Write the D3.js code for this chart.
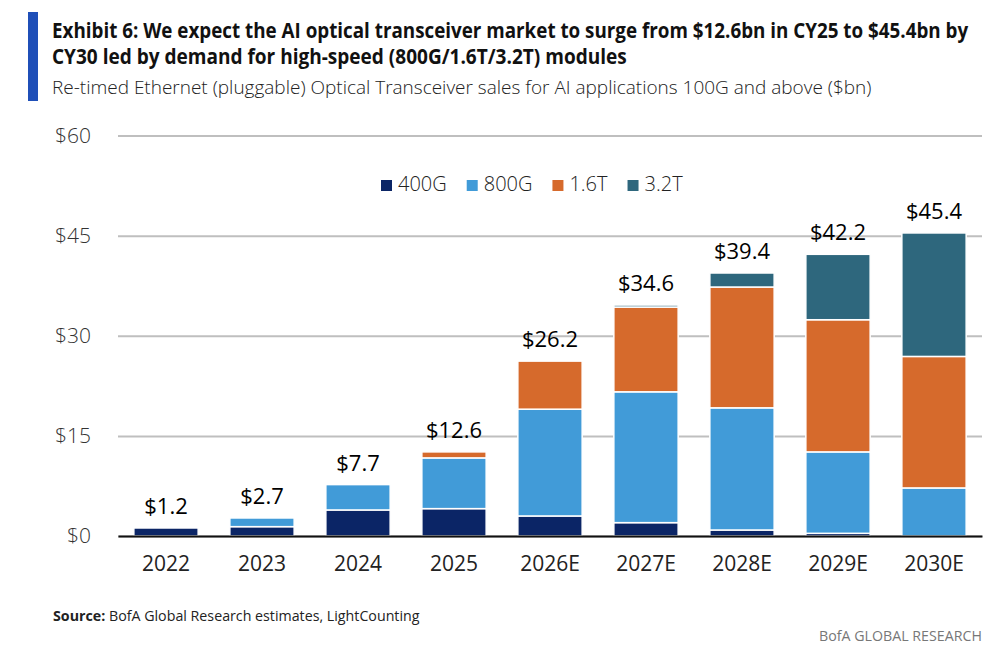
<!DOCTYPE html>
<html>
<head>
<meta charset="utf-8">
<script src="https://cdn.jsdelivr.net/npm/d3@7"></script>
<style>
  html, body { margin: 0; padding: 0; background: #fff; }
  svg { display: block; font-family: "Open Sans", "Noto Sans", sans-serif; }
</style>
</head>
<body>
<div id="chart"></div>
<script>
// chart values ($bn)
var years = ["2022", "2023", "2024", "2025", "2026E", "2027E", "2028E", "2029E", "2030E"];
var seriesNames = ["400G", "800G", "1.6T", "3.2T"];
var sales400G = [1.2, 1.4, 3.9, 4.1, 3.0, 2.0, 0.9, 0.4, 0.0];
var sales800G = [0.0, 1.3, 3.8, 7.6, 16.0, 19.6, 18.3, 12.2, 7.2];
var sales16T  = [0.0, 0.0, 0.0, 0.9, 7.2, 12.7, 18.1, 19.8, 19.7];
var sales32T  = [0.0, 0.0, 0.0, 0.0, 0.0, 0.3, 2.1, 9.8, 18.5];
var totals    = [1.2, 2.7, 7.7, 12.6, 26.2, 34.6, 39.4, 42.2, 45.4];
var yTicks    = [0, 15, 30, 45, 60];

var colors = ["#0b2566", "#419bd8", "#d66a2c", "#2e677d"];

var width = 998, height = 654;
var margin = { left: 118, right: 16, top: 135.5, bottom: 118 };

var svg = d3.select("#chart").append("svg")
    .attr("width", width)
    .attr("height", height);

// header
svg.append("rect")
    .attr("x", 28).attr("y", 12)
    .attr("width", 10).attr("height", 89)
    .attr("fill", "#1f4fb8");

// the original uses a condensed face, so squeeze the text horizontally to the same width
function condensed(x0, y0, len) {
  return function(sel) {
    var w = sel.node().getComputedTextLength();
    var k = Math.min(1, len / w);
    sel.attr("transform", "translate(" + x0 + "," + y0 + ") scale(" + k + ",1)");
  };
}

svg.append("text")
    .attr("font-size", 21).attr("font-weight", 700).attr("fill", "#111")
    .text("Exhibit 6: We expect the AI optical transceiver market to surge from $12.6bn in CY25 to $45.4bn by")
    .call(condensed(52, 38, 917));

svg.append("text")
    .attr("font-size", 21).attr("font-weight", 700).attr("fill", "#111")
    .text("CY30 led by demand for high-speed (800G/1.6T/3.2T) modules")
    .call(condensed(52, 64, 575));

svg.append("text")
    .attr("font-size", 19).attr("font-weight", 300).attr("fill", "#222")
    .text("Re-timed Ethernet (pluggable) Optical Transceiver sales for AI applications 100G and above ($bn)")
    .call(condensed(52, 94, 820));

// scales
var x = d3.scaleBand()
    .domain(years)
    .range([margin.left, width - margin.right])
    .paddingInner(0.33)
    .paddingOuter(0.165);

var y = d3.scaleLinear()
    .domain([0, 60])
    .range([height - margin.bottom, margin.top]);

// gridlines + y labels
var yAxis = d3.axisLeft(y)
    .tickValues(yTicks)
    .tickSize(-(width - margin.right - margin.left))
    .tickPadding(27)
    .tickFormat(function(d){ return "$" + d; });

var gy = svg.append("g")
    .attr("transform", "translate(" + margin.left + ",0)")
    .call(yAxis);
gy.select(".domain").remove();
gy.selectAll(".tick line")
    .attr("stroke", "#bfbfbf")
    .attr("stroke-width", 2);
gy.selectAll(".tick text")
    .attr("font-size", 21)
    .attr("font-weight", 300)
    .attr("fill", "#333")
    .attr("font-family", "'Open Sans', sans-serif");

// stacked bars
var rows = years.map(function(yr, i) {
  return { year: yr, "400G": sales400G[i], "800G": sales800G[i], "1.6T": sales16T[i], "3.2T": sales32T[i] };
});
var stacked = d3.stack().keys(seriesNames)(rows);

svg.append("g")
  .selectAll("g")
  .data(stacked)
  .join("g")
    .attr("fill", function(d, i){ return colors[i]; })
  .selectAll("rect")
  .data(function(d){ return d.filter(function(s){ return s[1] - s[0] > 0; }); })
  .join("rect")
    .attr("x", function(d){ return x(d.data.year); })
    .attr("y", function(d){ return y(d[1]); })
    .attr("width", x.bandwidth())
    .attr("height", function(d){ return y(d[0]) - y(d[1]); })
    .attr("stroke", "#fff")
    .attr("stroke-width", 1.5);

// baseline + x labels
var xAxis = d3.axisBottom(x).tickSize(0).tickPadding(20);
var gx = svg.append("g")
    .attr("transform", "translate(0," + y(0) + ")")
    .call(xAxis);
gx.select(".domain")
    .attr("stroke", "#111")
    .attr("stroke-width", 2);
gx.selectAll(".tick text")
    .attr("font-size", 21)
    .attr("font-weight", 400)
    .attr("fill", "#222")
    .attr("font-family", "'Open Sans', sans-serif");

// total labels
svg.append("g")
  .selectAll("text")
  .data(totals)
  .join("text")
    .attr("x", function(d, i){ return x(years[i]) + x.bandwidth() / 2; })
    .attr("y", function(d){ return y(d) - 14; })
    .attr("text-anchor", "middle")
    .attr("font-size", 22)
    .attr("fill", "#000")
    .text(function(d){ return "$" + d.toFixed(1); });

// legend
var legend = svg.append("g").attr("transform", "translate(381,180)");
var lx = 0;
seriesNames.forEach(function(name, i) {
  var item = legend.append("g").attr("transform", "translate(" + lx + ",0)");
  item.append("rect")
      .attr("width", 11).attr("height", 11)
      .attr("fill", colors[i]);
  var t = item.append("text")
      .attr("x", 17).attr("y", 10.5)
      .attr("font-size", 20)
      .attr("font-weight", 300)
      .attr("fill", "#222")
      .text(name);
  lx += 17 + t.node().getComputedTextLength() + 20;
});

// footer
var src = svg.append("text")
    .attr("font-size", 15).attr("fill", "#222");
src.append("tspan").attr("font-weight", 700).text("Source:");
src.append("tspan").attr("font-weight", 400).text(" BofA Global Research estimates, LightCounting");
src.call(condensed(53, 621, 367));

var brand = svg.append("text")
    .attr("font-size", 15).attr("fill", "#777")
    .text("BofA GLOBAL RESEARCH");
brand.call(condensed(982 - 163, 641, 163));
</script>
</body>
</html>
